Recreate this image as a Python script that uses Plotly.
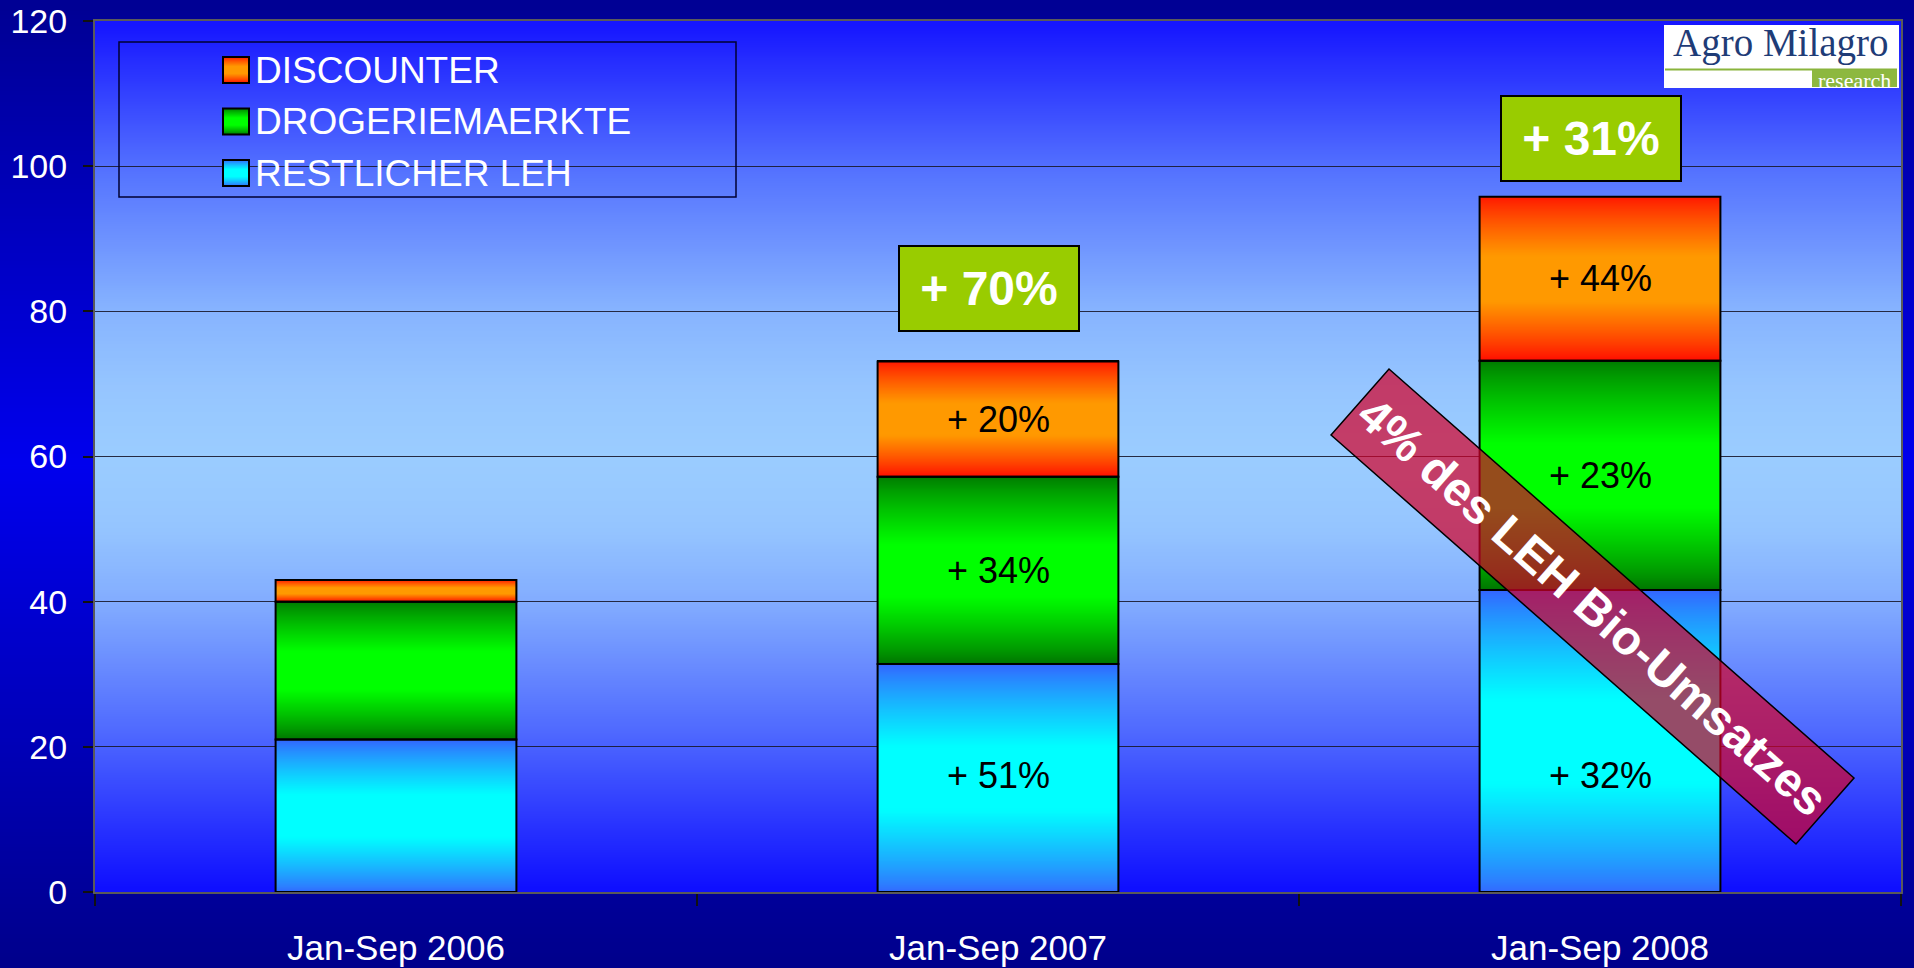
import base64
import struct
import zlib

import plotly.graph_objects as go

# ---------------- data ----------------
categories = ["Jan-Sep 2006", "Jan-Sep 2007", "Jan-Sep 2008"]
series_names = ["RESTLICHER LEH", "DROGERIEMAERKTE", "DISCOUNTER"]
restlicher_leh = [21.0, 31.4, 41.6]
drogeriemaerkte = [19.0, 25.8, 31.6]
discounter = [3.0, 15.9, 22.6]
restlicher_labels = ["", "+ 51%", "+ 32%"]
drogerie_labels = ["", "+ 34%", "+ 23%"]
discounter_labels = ["", "+ 20%", "+ 44%"]
total_growth_labels = ["", "+ 70%", "+ 31%"]
banner_text = "4% des LEH Bio-Umsatzes"
y_ticks = [0, 20, 40, 60, 80, 100, 120]

# ---------------- geometry / styling ----------------
W, H = 1914, 968
PL, PR, PT, PB = 95, 1901, 21, 892  # plot area in pixels
BAR_W = 0.4
FONT = "Liberation Sans, Arial, sans-serif"
SERIF = "Liberation Serif, Times New Roman, serif"


def px(x):
    return (x - PL) / (PR - PL)


def py(y):
    return (PB - y) / (PB - PT)


def png_uri(rows):
    raw = b"".join(b"\x00" + bytes(c) + bytes(c) for c in rows)

    def chunk(tag, data):
        return (struct.pack(">I", len(data)) + tag + data
                + struct.pack(">I", zlib.crc32(tag + data) & 0xFFFFFFFF))

    ihdr = struct.pack(">IIBBBBB", 2, len(rows), 8, 2, 0, 0, 0)
    png = (b"\x89PNG\r\n\x1a\n" + chunk(b"IHDR", ihdr)
           + chunk(b"IDAT", zlib.compress(raw)) + chunk(b"IEND", b""))
    return "data:image/png;base64," + base64.b64encode(png).decode()


def lerp(a, b, w):
    return tuple(int(round(a[i] + (b[i] - a[i]) * w)) for i in range(3))


def stops_gradient(stops, n=128):
    rows = []
    for k in range(n):
        t = k / (n - 1)
        for (t0, c0), (t1, c1) in zip(stops[:-1], stops[1:]):
            if t0 <= t <= t1:
                rows.append(lerp(c0, c1, (t - t0) / (t1 - t0) if t1 > t0 else 0))
                break
    return png_uri(rows)


def bar_gradient(edge_top, mid, edge_bot, n=96):
    rows = []
    for k in range(n):
        t = k / (n - 1)
        w = max(0.0, min(1.0, (0.5 - abs(t - 0.5)) / 0.36))
        w = w ** 0.85
        edge = edge_top if t < 0.5 else edge_bot
        rows.append(lerp(edge, mid, w))
    return png_uri(rows)


paper_grad = stops_gradient([(0, (0, 0, 148)), (0.48, (0, 0, 238)), (1, (0, 0, 140))])
plot_grad = stops_gradient([
    (0.0, (22, 22, 255)), (0.17, (85, 115, 255)), (0.33, (135, 180, 255)),
    (0.42, (150, 198, 255)), (0.5, (155, 205, 255)), (0.58, (150, 198, 255)),
    (0.67, (130, 172, 255)), (0.83, (75, 100, 255)), (1.0, (15, 15, 255))])

series_values = [restlicher_leh, drogeriemaerkte, discounter]
series_labels = [restlicher_labels, drogerie_labels, discounter_labels]
series_mid = ["#00ffff", "#00ff00", "#ff9900"]
series_grad = [
    bar_gradient((51, 102, 255), (0, 255, 255), (51, 108, 255)),
    bar_gradient((0, 125, 0), (0, 255, 0), (0, 118, 0)),
    bar_gradient((255, 24, 0), (255, 153, 0), (255, 14, 0)),
]

xpos = list(range(len(categories)))

fig = go.Figure()
for name, vals, col in zip(series_names, series_values, series_mid):
    fig.add_trace(go.Bar(
        x=xpos, y=vals, name=name, width=BAR_W,
        marker=dict(color=col, line=dict(color="black", width=2)),
        showlegend=False, hoverinfo="skip"))

images = [
    dict(source=paper_grad, xref="paper", yref="paper", x=px(0), y=py(0),
         sizex=px(W) - px(0), sizey=py(0) - py(H), sizing="stretch",
         xanchor="left", yanchor="top", layer="below"),
    dict(source=plot_grad, xref="paper", yref="paper", x=0, y=1,
         sizex=1, sizey=1, sizing="stretch", xanchor="left", yanchor="top",
         layer="below"),
]
shapes = []
annotations = []

# bar gradients, outlines and labels
base = [0.0] * len(categories)
for s, (vals, grad, labels) in enumerate(zip(series_values, series_grad, series_labels)):
    for j, v in enumerate(vals):
        images.append(dict(source=grad, xref="x", yref="y", x=j - BAR_W / 2,
                           y=base[j] + v, sizex=BAR_W, sizey=v, sizing="stretch",
                           xanchor="left", yanchor="top", layer="above"))
        shapes.append(dict(type="rect", xref="x", yref="y", x0=j - BAR_W / 2,
                           x1=j + BAR_W / 2, y0=base[j], y1=base[j] + v,
                           line=dict(color="black", width=2), layer="above"))
        if labels[j]:
            ylab = 16 if s == 0 else base[j] + v / 2
            annotations.append(dict(x=j, y=ylab, xref="x", yref="y", text=labels[j],
                                    showarrow=False, xanchor="center", yanchor="middle",
                                    font=dict(family=FONT, size=36, color="black")))
        base[j] += v

# total growth boxes
growth_gap = [0, 29, 15]
for j, lab in enumerate(total_growth_labels):
    if not lab:
        continue
    annotations.append(dict(
        x=j, y=base[j], xref="x", yref="y", text="<b>" + lab + "</b>",
        showarrow=False, xanchor="center", xshift=-9, yanchor="bottom",
        yshift=growth_gap[j],
        bgcolor="#99cc00", bordercolor="black", borderwidth=2, borderpad=0,
        width=178, height=83,
        font=dict(family=FONT, size=48, color="white")))

# diagonal banner
c_left, c_top, c_right, c_bot = (1331, 435), (1389, 369), (1854, 778), (1796, 844)
path = "M {} {} L {} {} L {} {} L {} {} Z".format(
    px(c_left[0]), py(c_left[1]), px(c_top[0]), py(c_top[1]),
    px(c_right[0]), py(c_right[1]), px(c_bot[0]), py(c_bot[1]))
shapes.append(dict(type="path", xref="paper", yref="paper", path=path,
                   fillcolor="rgba(212,0,40,0.7)", line=dict(color="black", width=1.5),
                   layer="above"))
annotations.append(dict(
    x=px(1592.5), y=py(606.5), xref="paper", yref="paper", text="<b>" + banner_text + "</b>",
    showarrow=False, textangle=41.3, xanchor="center", yanchor="middle",
    font=dict(family=FONT, size=48, color="white")))

# manual legend
shapes.append(dict(type="rect", xref="paper", yref="paper", x0=px(119), x1=px(736),
                   y0=py(197), y1=py(42), line=dict(color="#000033", width=1.5),
                   fillcolor="rgba(0,0,0,0)", layer="above"))
legend_rows = [(2, 70), (1, 121.5), (0, 173)]
for s, yc in legend_rows:
    images.append(dict(source=series_grad[s], xref="paper", yref="paper", x=px(223),
                       y=py(yc - 13), sizex=px(249) - px(223), sizey=py(yc - 13) - py(yc + 13),
                       sizing="stretch", xanchor="left", yanchor="top", layer="above"))
    shapes.append(dict(type="rect", xref="paper", yref="paper", x0=px(223), x1=px(249),
                       y0=py(yc + 13), y1=py(yc - 13), line=dict(color="black", width=2),
                       layer="above"))
    annotations.append(dict(x=px(253), y=py(yc), xref="paper", yref="paper",
                            text=series_names[s], showarrow=False, xanchor="left",
                            yanchor="middle",
                            font=dict(family=FONT, size=37, color="white")))

# logo
shapes.append(dict(type="rect", xref="paper", yref="paper", x0=px(1664), x1=px(1899),
                   y0=py(88), y1=py(25), line=dict(width=0), fillcolor="white",
                   layer="above"))
shapes.append(dict(type="line", xref="paper", yref="paper", x0=px(1665), x1=px(1897),
                   y0=py(69.5), y1=py(69.5), line=dict(color="#8ab43c", width=2),
                   layer="above"))
shapes.append(dict(type="rect", xref="paper", yref="paper", x0=px(1812), x1=px(1897),
                   y0=py(87), y1=py(70), line=dict(width=0), fillcolor="#8db83f",
                   layer="above"))
annotations.append(dict(x=px(1781), y=py(43), xref="paper", yref="paper",
                        text="Agro Milagro", showarrow=False, xanchor="center",
                        yanchor="middle",
                        font=dict(family=SERIF, size=39, color="#1f3c77")))
annotations.append(dict(x=px(1854), y=py(80), xref="paper", yref="paper",
                        text="research", showarrow=False, xanchor="center",
                        yanchor="middle",
                        font=dict(family=SERIF, size=22, color="white")))

fig.update_layout(
    width=W, height=H,
    margin=dict(l=PL, r=W - PR, t=PT, b=H - PB, pad=0, autoexpand=False),
    paper_bgcolor="#000099", plot_bgcolor="rgba(0,0,0,0)",
    barmode="stack", showlegend=False,
    images=images, shapes=shapes, annotations=annotations,
    xaxis=dict(range=[-0.5, len(categories) - 0.5], tickmode="array", tickvals=xpos,
               ticktext=categories, ticks="", showgrid=False, zeroline=False,
               automargin=False,
               showline=True, linecolor="#5a5a5a", linewidth=2, mirror=True,
               tickfont=dict(family=FONT, size=35, color="white"),
               ticklabelstandoff=24,
               minor=dict(tickmode="array",
                          tickvals=[k - 0.5 for k in range(len(categories) + 1)],
                          ticks="outside", ticklen=12, tickcolor="#111", tickwidth=1.5,
                          showgrid=False)),
    yaxis=dict(range=[0, 120], tickmode="array", tickvals=y_ticks, ticks="outside",
               ticklen=10, tickcolor="#111", tickwidth=1.5, automargin=False,
               showgrid=True, gridcolor="rgba(25,25,45,0.9)", gridwidth=1,
               zeroline=False, showline=True, linecolor="#5a5a5a", linewidth=2,
               mirror=True, tickfont=dict(family=FONT, size=34, color="white"),
               ticklabelstandoff=9),
)

fig.write_html(
    "out.html",
    config={"displayModeBar": False},
    post_script="document.body.style.margin='0';document.body.style.overflow='hidden';",
)
